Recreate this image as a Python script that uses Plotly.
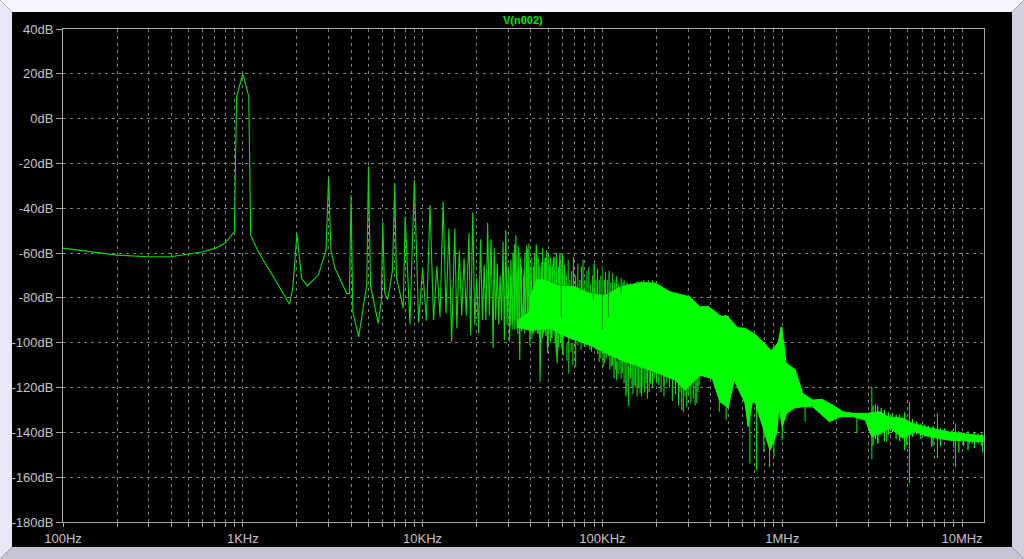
import plotly.graph_objects as go

# ---- data ----
trace_name = "V(n002)"
# single resolved curve, 100 Hz .. ~60 kHz
line_hz = [100,200,300,400,500,600,700,800,897,924,1000,1079,1106,1219,1479,1820,1900,2000,2123,2285,2630,2904,3000,3090,3258,3784,3920,4000,4090,4410,4890,5000,5130,5660,5900,6000,6150,6400,6800,7000,7150,7800,8000,8500,9000,9500,10000,10500,11000,11500,12000,12500,13000,13500,14000,14500,
           15100,15500,16000,16500,17000,17500,18100,18500,19000,19500,20000,20500,21000,21500,22000,22500,23000,23500,24000,24700,25000,25500,26000,26500,27000,27500,28000,28500,29000,29500,30000,30500,31000,31500,32200,32600,33000,33500,34000,34700,35000,36000,36800,37300,37900,38500,39000,39500,40000,41000,41800,42400,43000,43500,44500,45000,46000,47000,48000,48500,49000,49500,51000,52000,53000,53700,55000,56000,58000,59000,60000,60500]
line_db = [-57.8,-60.9,-61.6,-61.6,-60.4,-59.4,-57.9,-55.4,-50.5,10,20,10,-52,-59.4,-70.6,-82.8,-75,-51.2,-71.3,-74.6,-69.8,-58.7,-26.2,-58.7,-66.8,-78,-78,-34.1,-86.2,-97.4,-74.3,-21.2,-74.3,-91.4,-81,-46,-78,-80.7,-67.6,-28.9,-70.6,-84.7,-43.8,-91.7,-27.4,-91,-66.8,-90.2,-38.6,-90,-65.8,-88.5,-37.1,-87,-49,-99.6,
           -49,-93.6,-58.7,-88,-62.3,-88,-51,-96.6,-41.8,-92,-71,-95.8,-53.8,-90,-65.4,-90,-46.5,-88,-53.8,-102.5,-57.6,-90,-64.6,-92,-70,-90,-55,-98.8,-49.7,-92,-67.6,-99.6,-63,-92,-60,-94,-52,-94,-57,-107.8,-62.3,-94,-67,-92,-56.4,-94,-55.7,-101,-66,-96,-64,-95,-57,-96,-65,-117.4,-64,-96,-62,-97,-58.7,-104.6,-64.6,-98,-66,-61.6,-99,-109,-60,-100,-67,-105.5]

# extra resolved harmonics between those, 30-60 kHz
comb_hz = [30800,31800,32400,33800,34400,35500,36400,37000,38200,40500,41500,42000,42800,44000,45500,46500,47500,48200,50000,50500,51500,52500,54500,55500,57000,58500,59500]
comb_hi = [-70,-60,-56,-68,-60,-66,-70,-60,-58,-62,-66,-60,-56,-62,-66,-58,-64,-62,-60,-70,-62,-66,-62,-60,-66,-63,-65]
comb_lo = [-92,-94,-90,-96,-92,-95,-92,-96,-94,-98,-96,-92,-94,-96,-100,-98,-95,-96,-102,-96,-100,-98,-100,-104,-102,-100,-103]

# solid band, top and bottom edges
band_top_hz = [33500,37000,39000,40000,43000,47000,58000,70000,85000,103000,127000,162000,196000,238000,307000,349000,387000,462000,490000,567000,621000,706000,813000,867000,949000,986000,1020000,1050000,1180000,1300000,1480000,1660000,1920000,2180000,2480000,2950000,3500000,3870000,4680000,5330000,6600000,8500000,13100000]
band_top_db = [-90,-88,-86,-79,-72,-72,-75,-75,-78,-79,-75,-73.2,-73.4,-77.3,-79.5,-84,-83.7,-88.4,-87.8,-93.3,-93.5,-96.2,-101,-103.6,-100,-92.9,-100,-109,-112,-122.6,-125.6,-125.2,-127.9,-130.8,-131.5,-131.5,-130.8,-133,-133.7,-136,-138,-139.8,-141.6]
band_low_hz = [33500,39500,51000,66000,85000,110000,134000,162000,196000,254000,288000,349000,408000,451000,500000,540000,621000,646000,680000,706000,802000,855000,931000,960000,1000000,1060000,1180000,1300000,1480000,1630000,1830000,2100000,2480000,2900000,3150000,3500000,4000000,4680000,5500000,6600000,8500000,13100000]
band_low_db = [-93,-94.4,-93.6,-98,-101,-105.5,-108.5,-110.7,-113,-116.7,-121,-114.5,-116,-126.4,-129,-116.7,-127,-137.5,-127,-126.4,-140.5,-148,-140.5,-128.6,-137.5,-131.5,-129,-128.6,-128.6,-131.5,-135.3,-133,-133,-134.6,-142,-140.5,-138,-142.6,-139.8,-142,-143.5,-144.2]

# fine teeth on the band's upper edge (tips), all reaching down into the band
teeth_up_hz = [60000,61500,63000,64500,66000,67500,69000,71000,73000,75000,76500,78000,80000,82000,84000,86000,88000,90000,92000,94000,96000,98000,100000,102500,104000,106500,109000,111500,114000,117000,120000,123000,127000,130000,132000,135000,137000,140000,143000,147000,150000,153000,156000,160000,165000,170000,175000,180000,185000,190000,195000,200000,205000,210000,215000,220000,225000,232000,240000,248000]
teeth_up_db = [-60,-65.4,-70,-63,-72,-68,-61.6,-70,-64.6,-72,-66,-63,-72,-68,-66,-74,-70,-64.6,-72,-66.8,-72,-70,-66,-72,-68.3,-72,-67.9,-73,-69,-73,-70.3,-74,-71.3,-73,-72,-74,-73,-74,-73.5,-75,-74,-74.5,-72.5,-73.5,-72.5,-72,-73,-72,-73,-72,-73,-72.5,-74,-74.5,-75,-75.5,-76,-76.5,-77,-78]
teeth_up_into = -85

# fine teeth on the band's lower edge
teeth_down_hz = [62000,63500,67000,68500,73000,74000,78000,80000,82000,85000,87000,92000,94000,98000,103000,105000,108000,110000,114000,116000,118000,122000,125000,127000,132000,137000,143000,146000,148000,153000,156000,159000,165000,168000,175000,178000,182000,190000,194000,200000,206000,212000,220000,228000,236000,245000,255000,265000,270000,282000,288000,300000,310000,320000,328000,340000,345000]
teeth_down_db = [-100,-108,-104,-110,-101,-99,-100,-102,-101,-103,-104,-103,-105,-107,-109,-107,-106,-112,-110,-116,-112,-114,-112,-116,-118,-122,-116,-120,-123,-120,-124,-120,-124,-120,-118,-125,-122,-120,-116,-118,-119,-122,-124,-118,-120,-126,-123,-128,-122,-131,-124,-123,-127,-125,-128,-122,-119]
teeth_down_into = -100

# noise on the high-frequency tail
tail_hz = [3200000,3300000,3400000,3550000,3700000,3900000,4100000,4300000,4500000,4800000,5300000,5600000,5900000,6200000,6500000,6900000,7600000,8000000,8800000,9600000,10200000,10800000,11700000,12300000,12800000]
tail_hi = [-128,-127.5,-128,-129,-130,-131,-131.5,-132,-132,-131,-134,-135,-136,-136.5,-137,-137,-138,-138.5,-139,-139.5,-140,-139.5,-140,-140.5,-140.5]
tail_lo = [-146,-143,-145,-141,-144,-141,-140,-143,-144,-148,-142,-141,-143,-142,-142,-146,-146,-143,-144,-149,-146,-148,-147,-145,-146]

# large spikes rising out of the band
up_hz = [1000000,3150000,5100000,7300000,9200000]
up_tip = [-92.9,-119.7,-126.4,-131.6,-136]
up_base = [-100,-132,-136,-140,-142]

# large spikes falling out of the band
down_hz = [60000,65000,71000,76000,90000,96000,101000,112000,120000,129000,135000,140000,150000,162000,172000,185000,220000,276000,294000,335000,447000,488000,660000,720000,790000,850000,900000,1000000,1340000,2600000,3150000,3410000,3810000,4920000,5100000,6760000,7300000,9000000,9200000,11000000,11400000,13000000]
down_tip = [-105.5,-113.7,-110.7,-103.3,-102.5,-108.5,-110.7,-110.7,-116.7,-113.7,-124,-128.2,-119,-122.6,-122.3,-118.2,-119,-130,-128.6,-127,-130.8,-134.6,-153.9,-156.9,-148.7,-155.4,-150.9,-143.5,-135.3,-140.4,-152,-144.8,-144.2,-145.7,-162.8,-146.5,-151.6,-147,-155.4,-145,-145,-149]
down_base = [-95,-95,-98,-98,-100,-102,-104,-106,-108,-108,-108,-110,-110,-110,-112,-112,-114,-118,-118,-114,-124,-124,-128,-126,-136,-140,-138,-130,-128,-132,-138,-138,-136,-140,-136,-140,-140,-142,-142,-142,-142,-141]

# darker lines seen over the band
dark_hz = [59000,89000,100000,108000,127000]
dark_top = [-60,-64.6,-66,-69,-71]
dark_bot = [-88.6,-81,-94,-88.6,-78]

y_ticks = [40,20,0,-20,-40,-60,-80,-100,-120,-140,-160,-180]
y_labels = ["40dB","20dB","0dB","-20dB","-40dB","-60dB","-80dB","-100dB","-120dB","-140dB","-160dB","-180dB"]
x_decades = [100,1000,10000,100000,1000000,10000000]
x_labels = ["100Hz","1KHz","10KHz","100KHz","1MHz","10MHz"]

GREEN = "#08dc08"
SOLID = "#00ff00"
GRID = "#808080"
AXIS = "#a8a8a8"
TXT = "#c4c4c4"
FONT = "Liberation Sans"

x_ticks, x_text = [], []
for d, lab in zip(x_decades, x_labels):
    for m in range(1, 10):
        if d * m < 13200000:
            x_ticks.append(d * m)
            x_text.append(lab if m == 1 else "")

def sticks(hz, a, b):
    xs, ys = [], []
    for f, p, q in zip(hz, a, b):
        xs += [f, f, None]
        ys += [p, q, None]
    return xs, ys

def add_sticks(fig, hz, a, b, color=GREEN, width=1.1):
    xs, ys = sticks(hz, a, b)
    fig.add_trace(go.Scatter(x=xs, y=ys, mode="lines", line=dict(color=color, width=width),
                             hoverinfo="skip", showlegend=False))

fig = go.Figure()
fig.add_trace(go.Scatter(x=line_hz, y=line_db, mode="lines", name=trace_name,
                         line=dict(color=GREEN, width=1.1), showlegend=False))
add_sticks(fig, comb_hz, comb_hi, comb_lo)
add_sticks(fig, teeth_up_hz, teeth_up_db, [teeth_up_into] * len(teeth_up_hz))
add_sticks(fig, teeth_down_hz, teeth_down_db, [teeth_down_into] * len(teeth_down_hz))
add_sticks(fig, tail_hz, tail_hi, tail_lo, color=SOLID, width=1.2)
add_sticks(fig, up_hz, up_tip, up_base)
add_sticks(fig, down_hz, down_tip, down_base)
fig.add_trace(go.Scatter(x=band_top_hz + band_low_hz[::-1], y=band_top_db + band_low_db[::-1],
                         mode="lines", fill="toself", fillcolor=SOLID,
                         line=dict(color=SOLID, width=1), hoverinfo="skip", showlegend=False))
add_sticks(fig, dark_hz, dark_top, dark_bot, color="#008c00", width=1)

W, H = 1024, 559
L, T, R, B = 63, 29, 984, 522
def px(x): return (x - L) / (R - L)
def py(y): return (B - y) / (B - T)
def poly(pts, color):
    path = "M " + " L ".join(f"{px(a):.5f},{py(b):.5f}" for a, b in pts) + " Z"
    return dict(type="path", xref="paper", yref="paper", path=path,
                fillcolor=color, line=dict(width=0), layer="below")

shapes = [
    poly([(0,0),(W,0),(1012,12),(12,12)], "#f5f5fd"),
    poly([(0,0),(12,12),(12,547),(0,H)], "#e8e8f6"),
    poly([(W,0),(W,H),(1012,547),(1012,12)], "#d0d0e0"),
    poly([(0,H),(12,547),(1012,547),(W,H)], "#c4c4d4"),
    poly([(12,12),(1012,12),(1012,547),(12,547)], "#000000"),
]

fig.update_layout(
    width=W, height=H, autosize=False,
    margin=dict(l=L, r=W - R, t=T, b=H - B, pad=0),
    paper_bgcolor="#000000", plot_bgcolor="#000000",
    font=dict(family=FONT, size=12, color=TXT),
    shapes=shapes,
    showlegend=False,
    annotations=[dict(text="<b>" + trace_name + "</b>", xref="paper", yref="paper",
                      x=px(523), y=py(20), xanchor="center", yanchor="middle",
                      showarrow=False, font=dict(family=FONT, size=11, color="#00e000"))],
    xaxis=dict(type="log", range=[2, 7.1222], tickmode="array", tickvals=x_ticks, ticktext=x_text,
               showgrid=True, gridcolor=GRID, griddash="3px,4px", gridwidth=1, zeroline=False,
               showline=True, linecolor=AXIS, linewidth=1, mirror=True,
               ticks="outside", ticklen=4, tickcolor=AXIS, tickwidth=1,
               tickangle=0, tickfont=dict(family=FONT, size=13, color=TXT)),
    yaxis=dict(range=[-180, 40], tickmode="array", tickvals=y_ticks, ticktext=y_labels,
               showgrid=True, gridcolor=GRID, griddash="3px,4px", gridwidth=1, zeroline=False,
               showline=True, linecolor=AXIS, linewidth=1, mirror=True,
               ticks="outside", ticklen=6, tickcolor=AXIS, tickwidth=1,
               tickfont=dict(family=FONT, size=13, color=TXT)),
)

fig.write_html("out.html", config=dict(displayModeBar=False),
               post_script="document.body.style.margin='0';document.documentElement.style.overflow='hidden';")
